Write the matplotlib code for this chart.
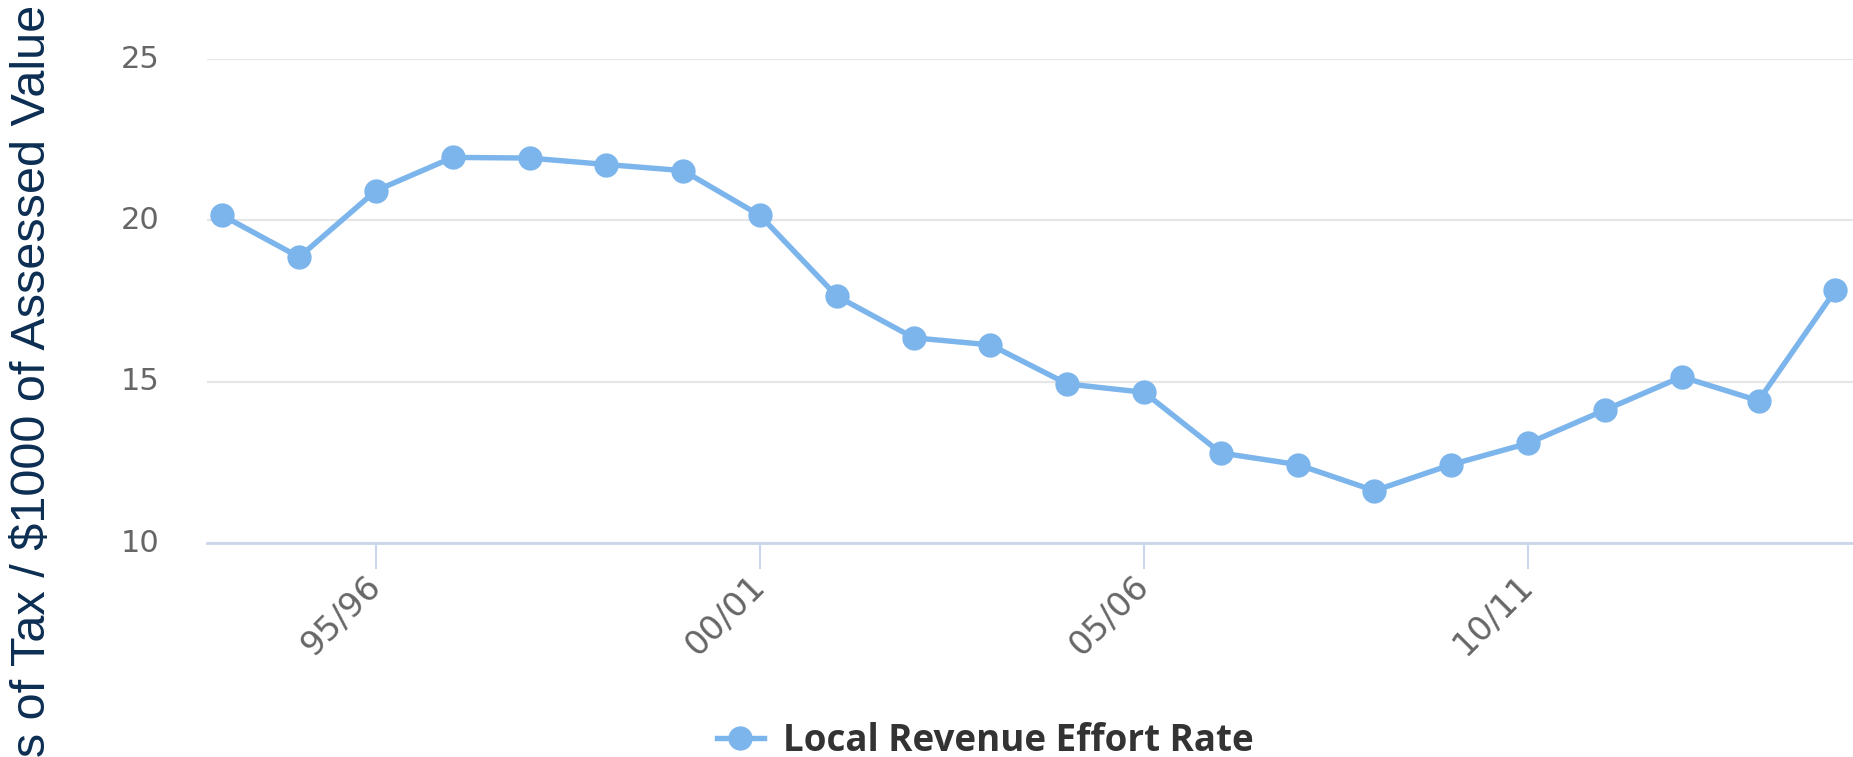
import matplotlib
matplotlib.use("Agg")
import matplotlib.pyplot as plt
from matplotlib.lines import Line2D

years = ["93/94", "94/95", "95/96", "96/97", "97/98", "98/99", "99/00", "00/01",
         "01/02", "02/03", "03/04", "04/05", "05/06", "06/07", "07/08", "08/09",
         "09/10", "10/11", "11/12", "12/13", "13/14", "14/15"]
rates = [20.15, 18.86, 20.92, 21.95, 21.93, 21.73, 21.54, 20.15,
         17.65, 16.36, 16.14, 14.93, 14.67, 12.79, 12.43, 11.62,
         12.43, 13.09, 14.12, 15.15, 14.41, 17.83]
yticks = [10, 15, 20, 25]
tick_labels_shown = ["95/96", "00/01", "05/06", "10/11"]
series_name = "Local Revenue Effort Rate"
ylabel = "Dollars of Tax / $1000 of Assessed Value"

W, H = 1853, 757
fig = plt.figure(figsize=(W / 100, H / 100), dpi=100)
ax = fig.add_axes([207 / W, 1 - 543 / H, 1 - 207 / W, (543 - 59) / H])

color = "#7cb5ec"
x = list(range(len(years)))
ax.plot(x, rates, color=color, lw=3.9, marker="o", ms=17.5, markeredgewidth=0,
        solid_joinstyle="round", clip_on=False, zorder=3)

ax.set_ylim(10, 25)
ax.set_xlim(-0.2, len(years) - 1 + 0.23)
ax.set_yticks(yticks)
ax.set_yticklabels([str(v) for v in yticks], family="DejaVu Sans")
ax.grid(axis="y", color="#e6e6e6", lw=1.6)
ax.set_axisbelow(True)

pos = [years.index(t) for t in tick_labels_shown]
ax.set_xticks(pos)
ax.set_xticklabels(tick_labels_shown, rotation=45, ha="right", va="center",
                   rotation_mode="anchor", family="DejaVu Sans")

for s in ["top", "right", "left"]:
    ax.spines[s].set_visible(False)
ax.spines["bottom"].set_color("#ccd6eb")
ax.spines["bottom"].set_linewidth(2)

ax.tick_params(axis="y", length=0, pad=34, labelsize=22, labelcolor="#666666")
ax.tick_params(axis="x", length=19, width=1.5, color="#ccd6eb", pad=8,
               labelsize=24.5, labelcolor="#666666")
for lab in ax.get_yticklabels():
    lab.set_va("center")

fig.text(33 / W, 1 - 5 / H, ylabel, rotation=90, ha="center", va="top",
         fontsize=35, color="#0b2e52", family="Liberation Sans")

handle = Line2D([], [], color=color, lw=3.9, marker="o", ms=17.5, markeredgewidth=0)
leg = fig.legend([handle], [series_name], loc="center",
                 bbox_to_anchor=(985 / W, 1 - 741 / H), frameon=False,
                 handlelength=1.3, handletextpad=0.5,
                 prop={"weight": "bold", "size": 26.5, "family": "Open Sans"})
for t in leg.get_texts():
    t.set_color("#333333")

fig.savefig("out.png", dpi=100)
